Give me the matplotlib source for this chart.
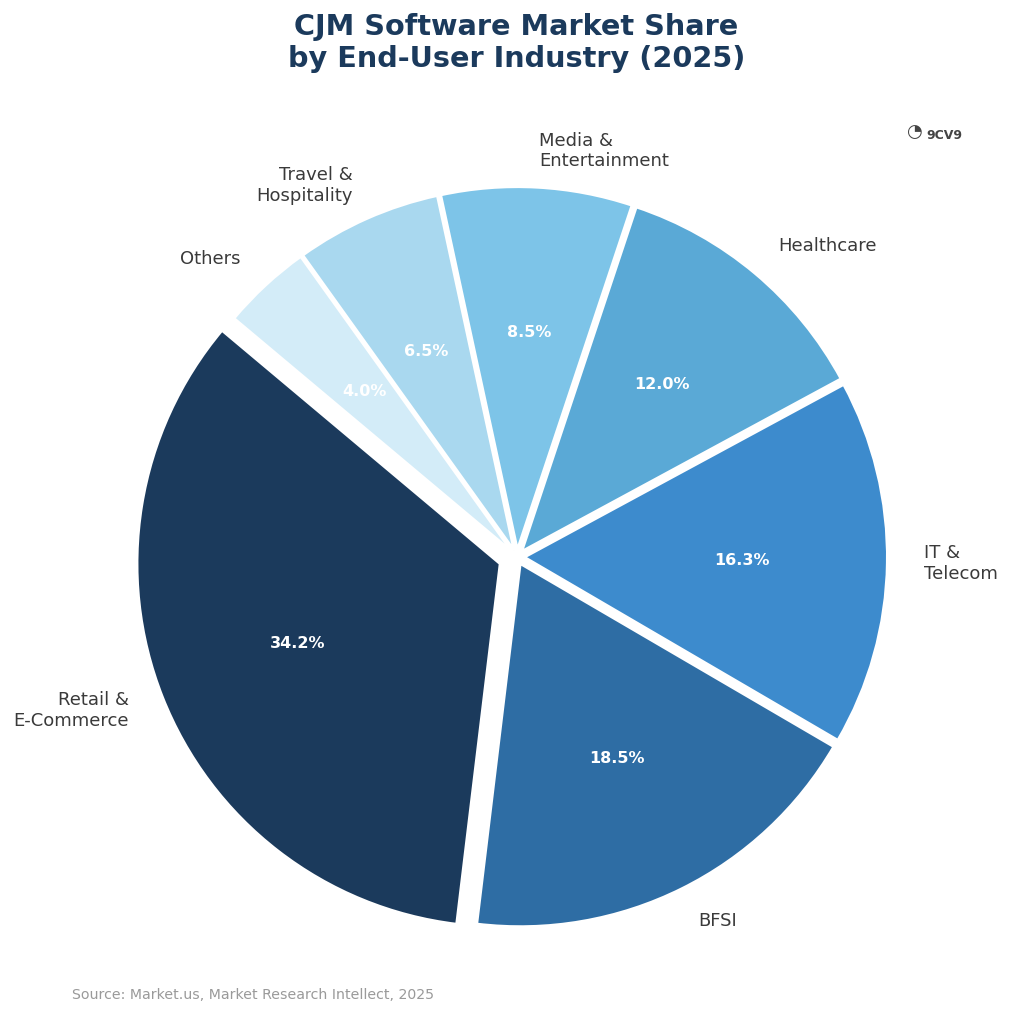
import matplotlib
matplotlib.use("Agg")
import matplotlib.pyplot as plt

# data
industries = ["Retail &\nE-Commerce", "BFSI", "IT &\nTelecom", "Healthcare",
              "Media &\nEntertainment", "Travel &\nHospitality", "Others"]
shares = [34.2, 18.5, 16.3, 12.0, 8.5, 6.5, 4.0]
colors = ["#1B3A5C", "#2E6DA4", "#3D8BCD", "#5AA9D6", "#7DC4E8", "#A9D8EF", "#D3ECF8"]
explode = [0.05, 0.02, 0.02, 0.02, 0.02, 0.02, 0.02]

fig = plt.figure(figsize=(10.09, 10.24), dpi=100)
ax = fig.add_axes([0.0446, -0.005, 0.9356, 0.922])

wedges, texts, autotexts = ax.pie(
    shares, labels=industries, colors=colors, explode=explode,
    startangle=140, counterclock=True, autopct="%1.1f%%",
    pctdistance=0.6, labeldistance=1.1,
    wedgeprops=dict(edgecolor="white", linewidth=2),
    textprops=dict(fontsize=13, color="#3a3a3a"))

for t in autotexts:
    t.set_color("white")
    t.set_fontsize(11.5)
    t.set_fontweight("bold")

ax.set_xlim(-1.3, 1.3)
ax.set_ylim(-1.3, 1.3)
ax.set_aspect("equal")
ax.axis("off")

fig.suptitle("CJM Software Market Share\nby End-User Industry (2025)",
             fontsize=20.7, fontweight="bold", color="#1B3A5C", x=0.512, y=0.987,
             linespacing=1.16)

fig.text(0.0714, 0.028, "Source: Market.us, Market Research Intellect, 2025",
         fontsize=10.2, color="#9a9a9a", ha="left", va="center")

# logo placeholder
fig.text(0.898, 0.871, "\u25D4", fontsize=13, color="#444444", ha="left", va="center")
fig.text(0.918, 0.868, "9CV9", fontsize=9, fontweight="bold", color="#444444",
         ha="left", va="center")

fig.savefig("out.png", dpi=100, facecolor="white")
